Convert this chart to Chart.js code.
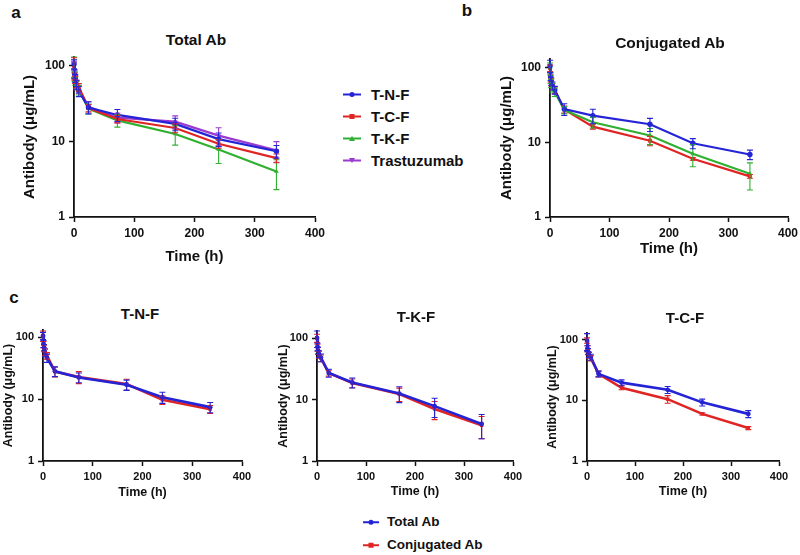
<!DOCTYPE html>
<html>
<head>
<meta charset="utf-8">
<script src="https://cdn.jsdelivr.net/npm/chart.js@4.4.1/dist/chart.umd.min.js"></script>
<style>
  html, body { margin: 0; padding: 0; background: #fff; }
  #wrap { position: relative; width: 800px; height: 555px; overflow: hidden; font-family: "Liberation Sans", Arial, sans-serif; font-weight: bold; color: #111; }
  canvas { position: absolute; }
  .t { position: absolute; white-space: nowrap; transform: translate(-50%, -50%); line-height: 1; }
  .lg { position: absolute; white-space: nowrap; line-height: 1; display: flex; align-items: center; transform: translateY(-50%); }
  .ln { position: relative; display: inline-block; height: 2px; }
  .mk { position: absolute; left: 50%; top: 50%; transform: translate(-50%, -50%); }
</style>
</head>
<body>
<div id="wrap"></div>
<script>
// ---------------- DATA ----------------
const times = [0.083, 1, 2, 4, 8, 24, 72, 168, 240, 336];
const xTicks = [0, 100, 200, 300, 400];
const yTicks = [1, 10, 100];

// Total Ab
const tnfTotal   = [105, 78, 68, 56, 46, 28, 22.3, 17.0, 10.7, 7.4];
const tnfTotalSD = [14, 10, 8, 8, 7, 5, 4, 3.2, 2.2, 1.4];
const tcfTotal   = [97, 72, 65, 57, 52, 27.5, 19.7, 15.0, 9.3, 6.0];
const tcfTotalSD = [30, 8, 7, 6, 6, 3, 2.2, 2.0, 1.2, 0.8];
const tkfTotal   = [100, 72, 63, 55, 48, 27, 18.9, 12.5, 7.8, 4.0];
const tkfTotalSD = [30, 10, 8, 7, 7, 4, 3.5, 3.6, 2.7, 1.7];
const trasTotal  = [100, 74, 66, 57, 49, 28.5, 20.5, 18.2, 11.9, 7.6];
const trasTotalSD= [12, 9, 8, 7, 6, 5, 3, 3.5, 3.2, 2.3];

// Conjugated Ab
const tnfConj   = [105, 76, 66, 57, 50, 27.8, 22.7, 17.4, 9.7, 6.85];
const tnfConjSD = [20, 9, 8, 7, 6, 5, 5, 3.5, 1.5, 1.0];
const tcfConj   = [98, 72, 64, 56, 50, 27.5, 16.2, 10.5, 6.0, 3.5];
const tcfConjSD = [10, 8, 7, 6, 5, 3, 1.2, 1.5, 0.25, 0.2];
const tkfConj   = [100, 70, 62, 54, 47, 27, 18.5, 12.3, 7.0, 3.8];
const tkfConjSD = [15, 9, 8, 7, 6, 3, 3, 3, 2.3, 1.5];

// ---------------- STYLE ----------------
const BLUE = '#2424d6', RED = '#e02424', GREEN = '#30b030', PURPLE = '#9a3ad0';
const FONT = '"Liberation Sans", Arial, sans-serif';
const wrap = document.getElementById('wrap');

function pts(vals) { return times.map((t, i) => ({ x: t, y: vals[i] })); }

function ds(label, vals, sd, color, style, rot, lw, pr) {
  return {
    label, data: pts(vals), sd,
    borderColor: color, backgroundColor: color,
    borderWidth: lw, pointRadius: pr, pointStyle: style, pointRotation: rot || 0,
    pointBorderWidth: 0, tension: 0, fill: false, clip: false
  };
}

const errorBars = {
  id: 'errorBars',
  afterDatasetsDraw(chart) {
    const ctx = chart.ctx, xs = chart.scales.x, ys = chart.scales.y;
    const list = chart.data.datasets.map((d, i) => [d, i]).reverse();
    list.forEach(([d]) => {
      if (!d.sd) return;
      ctx.save();
      ctx.strokeStyle = d.borderColor;
      ctx.lineWidth = 1.1;
      d.data.forEach((p, j) => {
        const s = d.sd[j];
        if (!s) return;
        const x = xs.getPixelForValue(p.x);
        const yh = ys.getPixelForValue(p.y + s);
        const yl = ys.getPixelForValue(Math.max(p.y - s, ys.min));
        const c = 3;
        ctx.beginPath();
        ctx.moveTo(x, yh); ctx.lineTo(x, yl);
        ctx.moveTo(x - c, yh); ctx.lineTo(x + c, yh);
        if (p.y - s > ys.min) { ctx.moveTo(x - c, yl); ctx.lineTo(x + c, yl); }
        ctx.stroke();
      });
      ctx.restore();
    });
  }
};

function text(str, cx, cy, size) {
  const d = document.createElement('div');
  d.className = 't';
  d.style.left = cx + 'px'; d.style.top = cy + 'px'; d.style.fontSize = size + 'px';
  d.textContent = str;
  wrap.appendChild(d);
}

function marker(color, style) {
  const m = document.createElement('span');
  m.className = 'mk';
  if (style === 'circle') { m.style.cssText += `width:5px;height:5px;border-radius:50%;background:${color};`; }
  else if (style === 'rect') { m.style.cssText += `width:5px;height:5px;background:${color};`; }
  else if (style === 'tri') { m.style.cssText += `width:0;height:0;border-left:3px solid transparent;border-right:3px solid transparent;border-bottom:5px solid ${color};`; }
  else { m.style.cssText += `width:0;height:0;border-left:3px solid transparent;border-right:3px solid transparent;border-top:5px solid ${color};`; }
  return m;
}

function legendItem(label, color, style, x, cy, lineW, gap, size) {
  const d = document.createElement('div');
  d.className = 'lg';
  d.style.left = x + 'px'; d.style.top = cy + 'px'; d.style.fontSize = size + 'px';
  const ln = document.createElement('span');
  ln.className = 'ln';
  ln.style.width = lineW + 'px'; ln.style.background = color; ln.style.marginRight = gap + 'px';
  ln.appendChild(marker(color, style));
  d.appendChild(ln);
  const s = document.createElement('span');
  s.textContent = label;
  d.appendChild(s);
  wrap.appendChild(d);
}

function panel(area, yTitleX, xTitleY, f, datasets) {
  const padTop = 8, padRight = 22;
  const yLH = f.axis * 1.2, xLH = f.axis * 1.2;
  const cl = Math.round(yTitleX - yLH / 2);
  const ct = Math.round(area.t - padTop);
  const cw = Math.round(area.r + padRight - cl);
  const bottom = Math.round(xTitleY + xLH / 2);
  const ch = bottom - ct;
  const yW = area.l - cl, xH = bottom - area.b;
  const cv = document.createElement('canvas');
  cv.width = cw; cv.height = ch;
  cv.style.left = cl + 'px'; cv.style.top = ct + 'px';
  cv.style.width = cw + 'px'; cv.style.height = ch + 'px';
  wrap.appendChild(cv);
  const gridOpts = { display: true, drawOnChartArea: false, drawTicks: true, tickLength: 5, tickColor: '#111', tickWidth: 1.5 };
  const borderOpts = { display: true, color: '#111', width: 1.8 };
  new Chart(cv.getContext('2d'), {
    type: 'line',
    data: { datasets },
    options: {
      responsive: false, animation: false, devicePixelRatio: 1, events: [],
      layout: { padding: { top: padTop, right: padRight, left: 0, bottom: 0 } },
      plugins: { legend: { display: false }, tooltip: { enabled: false }, title: { display: false } },
      scales: {
        x: {
          type: 'linear', min: 0, max: 400,
          grid: gridOpts, border: borderOpts,
          afterBuildTicks: s => { s.ticks = xTicks.map(v => ({ value: v })); },
          ticks: { color: '#111', padding: 4, font: { family: FONT, size: f.tick, weight: 'bold' }, maxRotation: 0, callback: v => String(v) },
          title: { display: true, text: 'Time (h)', color: '#111', padding: 0, font: { family: FONT, size: f.axis, weight: 'bold' } },
          afterFit: s => { s.height = xH; s.paddingLeft = 0; s.paddingRight = 0; }
        },
        y: {
          type: 'logarithmic', min: 1, max: 130,
          grid: gridOpts, border: borderOpts,
          afterBuildTicks: s => { s.ticks = yTicks.map(v => ({ value: v })); },
          ticks: { color: '#111', padding: 4, font: { family: FONT, size: f.tick, weight: 'bold' }, callback: v => String(v) },
          title: { display: true, text: 'Antibody (μg/mL)', color: '#111', padding: 0, font: { family: FONT, size: f.axis, weight: 'bold' } },
          afterFit: s => { s.width = yW; s.paddingTop = 0; s.paddingBottom = 0; }
        }
      }
    },
    plugins: [errorBars]
  });
}

// ---------------- PANELS ----------------
const fAB = { axis: 15, tick: 12 };
const fC = { axis: 12.5, tick: 11 };

panel({ l: 74, r: 315, t: 57, b: 217 }, 30, 257, fAB, [
  ds('T-N-F', tnfTotal, tnfTotalSD, BLUE, 'circle', 0, 2.2, 2.7),
  ds('T-C-F', tcfTotal, tcfTotalSD, RED, 'rect', 0, 2.2, 2.7),
  ds('T-K-F', tkfTotal, tkfTotalSD, GREEN, 'triangle', 0, 2.2, 2.7),
  ds('Trastuzumab', trasTotal, trasTotalSD, PURPLE, 'triangle', 180, 2.2, 2.7)
]);

panel({ l: 550, r: 788, t: 59, b: 217 }, 507, 249, fAB, [
  ds('T-N-F', tnfConj, tnfConjSD, BLUE, 'circle', 0, 2.2, 2.7),
  ds('T-K-F', tkfConj, tkfConjSD, GREEN, 'triangle', 0, 2.2, 2.7),
  ds('T-C-F', tcfConj, tcfConjSD, RED, 'rect', 0, 2.2, 2.7)
]);

panel({ l: 43, r: 242, t: 330, b: 461 }, 8, 492, fC, [
  ds('Total Ab', tnfTotal, tnfTotalSD, BLUE, 'circle', 0, 2.6, 2.4),
  ds('Conjugated Ab', tnfConj, tnfConjSD, RED, 'rect', 0, 2.6, 2.4)
]);

panel({ l: 317, r: 513, t: 331, b: 461 }, 283, 491, fC, [
  ds('Total Ab', tkfTotal, tkfTotalSD, BLUE, 'circle', 0, 2.6, 2.4),
  ds('Conjugated Ab', tkfConj, tkfConjSD, RED, 'rect', 0, 2.6, 2.4)
]);

panel({ l: 587, r: 779, t: 333, b: 461 }, 552, 491, fC, [
  ds('Total Ab', tcfTotal, tcfTotalSD, BLUE, 'circle', 0, 2.6, 2.4),
  ds('Conjugated Ab', tcfConj, tcfConjSD, RED, 'rect', 0, 2.6, 2.4)
]);

// ---------------- TEXTS ----------------
text('a', 16, 12, 17);
text('b', 467, 10, 17);
text('c', 14, 297, 17);
text('Total Ab', 196, 40, 15.5);
text('Conjugated Ab', 670, 43, 15.5);
text('T-N-F', 140, 313, 15);
text('T-K-F', 416, 316, 15);
text('T-C-F', 685, 317, 15);

legendItem('T-N-F', BLUE, 'circle', 343, 94, 18, 10, 15);
legendItem('T-C-F', RED, 'rect', 343, 116, 18, 10, 15);
legendItem('T-K-F', GREEN, 'tri', 343, 138, 18, 10, 15);
legendItem('Trastuzumab', PURPLE, 'tridown', 343, 160, 18, 10, 15);

legendItem('Total Ab', BLUE, 'circle', 363, 522, 16, 8, 13.5);
legendItem('Conjugated Ab', RED, 'rect', 363, 545, 16, 8, 13.5);
</script>
</body>
</html>
